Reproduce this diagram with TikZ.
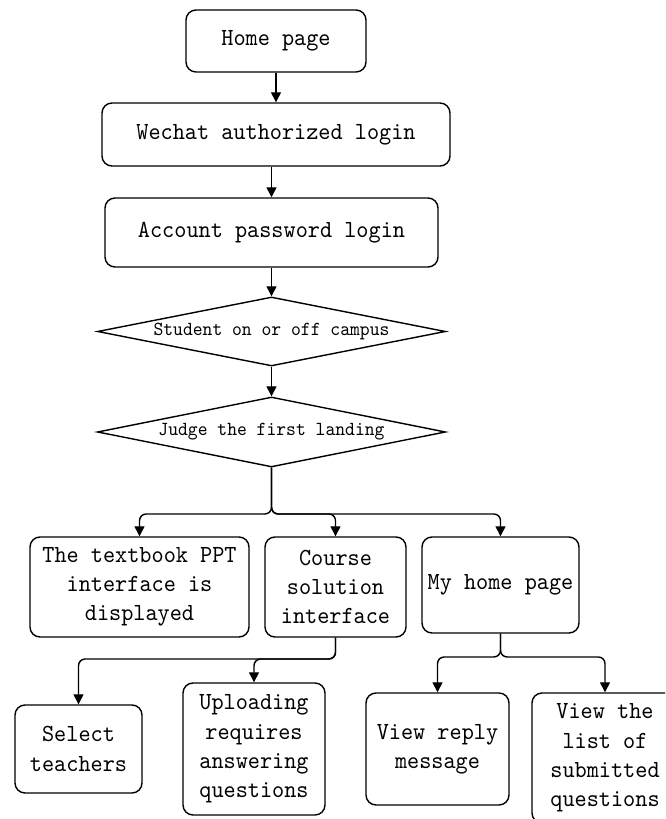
\documentclass[tikz,border=0pt]{standalone}
\usepackage{fontspec}
\newfontfamily\flowfont[Extension=.otf, FakeStretch=0.94]{lmmono10-regular}
\usepackage{tikz}
\usetikzlibrary{calc,positioning,arrows.meta,shapes.geometric}

\begin{document}
\begin{tikzpicture}[
		box/.style={draw, rounded corners=0.3cm, line width=1.2pt, align=center, inner sep=2pt, font=\flowfont\fontsize{21}{25}\selectfont},
		decision/.style={draw, diamond, aspect=5, inner sep=0pt, line width=1.2pt, font=\flowfont\fontsize{17}{20}\selectfont},
		conn/.style={-{Triangle[length=0.3cm,width=0.3cm]}, line width=1.2pt, rounded corners=0.2cm}
	]
		\useasboundingbox (0,0) rectangle (19.95,24.57);
		\clip (0,0) rectangle (19.95,24.57);

		% login steps
		\node[box, minimum width=5.4cm, minimum height=1.86cm] (home) at (8.28,23.34) {Home page};
		\node[box, minimum width=10.44cm, minimum height=1.89cm] (wechat) at (8.28,20.535) {Wechat authorized login};
		\node[box, minimum width=9.99cm, minimum height=2.07cm] (account) at (8.145,17.595) {Account password login};
		\node[decision, minimum width=10.44cm, minimum height=2.07cm] (campus) at (8.145,14.625) {Student on or off campus};
		\node[decision, minimum width=10.44cm, minimum height=2.1cm] (first) at (8.145,11.61) {Judge the first landing};

		% interfaces
		\node[box, minimum width=6.57cm, minimum height=3cm] (ppt) at (4.185,6.96) {The textbook PPT\\interface is\\displayed};
		\node[box, minimum width=4.23cm, minimum height=3cm] (course) at (10.065,6.96) {Course\\solution\\interface};
		\node[box, minimum width=4.71cm, minimum height=2.88cm] (mine) at (15.015,7.02) {My home page};

		\node[box, minimum width=3.81cm, minimum height=2.64cm] (teacher) at (2.355,2.1) {Select\\teachers};
		\node[box, minimum width=4.26cm, minimum height=3.96cm] (upload) at (7.62,2.1) {Uploading\\requires\\answering\\questions};
		\node[box, minimum width=4.29cm, minimum height=3.36cm] (reply) at (13.125,2.1) {View reply\\message};
		\node[box, minimum width=4.38cm, minimum height=3.9cm] (submitted) at (18.15,1.83) {View the\\list of\\submitted\\questions};

		\draw[conn] (home.south) -- (home.south |- wechat.north);
		\draw[conn] (account.north |- wechat.south) -- (account.north);
		\draw[conn] (account.south) -- (campus.north);
		\draw[conn] (campus.south) -- (first.north);

		\coordinate (split1) at (8.145,9.15);
		\draw[conn] (first.south) -- (split1) -| (ppt.north);
		\draw[conn] (first.south) -- (split1) -| (course.north);
		\draw[conn] (first.south) -- (split1) -| (mine.north);

		\coordinate (split2) at (10.065,4.8);
		\draw[conn] (course.south) -- (split2) -| (teacher.north);
		\draw[conn] (course.south) -- (split2) -| (upload.north);

		\coordinate (split3) at (15.015,4.86);
		\draw[conn] (mine.south) -- (split3) -| (reply.north);
		\draw[conn] (mine.south) -- (split3) -| (submitted.north);
	\end{tikzpicture}
\end{document}
